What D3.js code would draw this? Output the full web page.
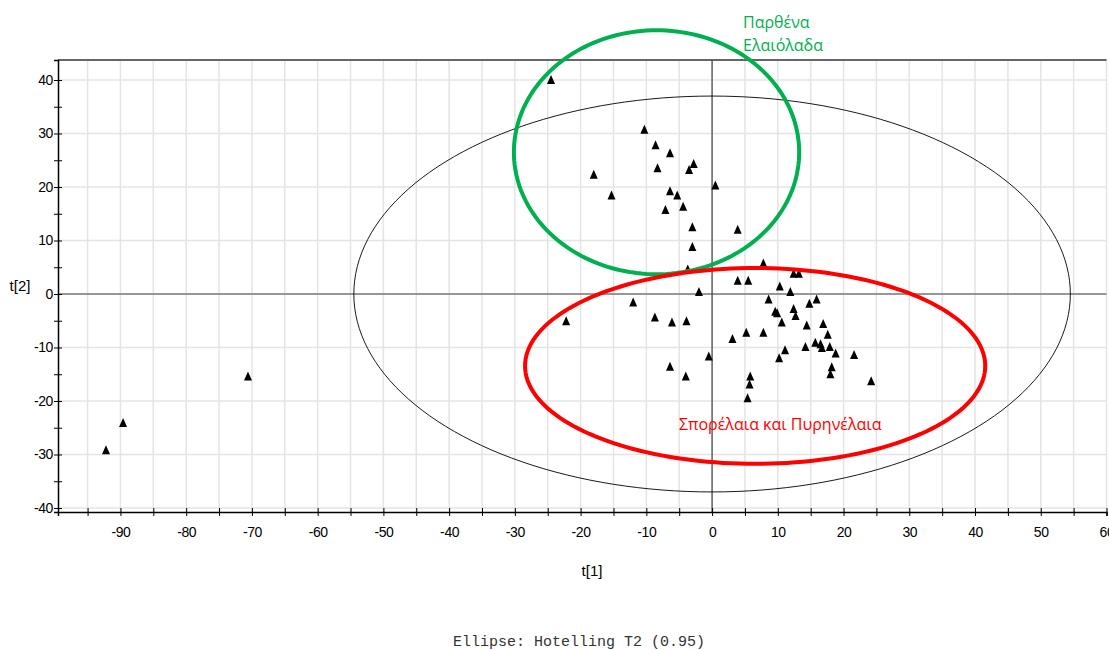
<!DOCTYPE html>
<html>
<head>
<meta charset="utf-8">
<script src="https://cdn.jsdelivr.net/npm/d3@7"></script>
<style>
  body { margin: 0; background: #fff; }
  svg { display: block; }
  .tick text { font-family: "Liberation Sans", Arial, sans-serif; font-size: 14px; letter-spacing: -0.4px; fill: #000; }
</style>
</head>
<body>
<div id="chart"></div>
<script>
// scores t[1], t[2]
const t1 = [-24.5, -10.3, -8.6, -6.4, -2.8, -3.5, -8.3, -18.0, 0.5, -15.3,
            -6.4, -5.3, -7.1, -4.4, -3.0, 3.9, -3.0, -3.7, 3.9, 5.5,
            -2.0, -12.0, 7.8, 12.4, 13.2, 10.3, 11.9, 8.6, 15.9, 14.8,
            9.6, 9.9, 12.4, 12.7, 10.6, -22.2, -8.7, -6.1, -3.9, 14.4,
            16.9, 5.2, 7.8, 3.1, 17.6, 14.2, 15.7, 16.5, 16.7, 17.9,
            11.1, 10.2, 18.8, 21.6, -0.5, -6.4, -4.0, 18.2, 18.0, 5.8,
            5.7, 24.2, 5.4, -70.6, -89.6, -92.2];
const t2 = [39.9, 30.6, 27.7, 26.2, 24.2, 23.1, 23.4, 22.2, 20.2, 18.3,
            19.1, 18.3, 15.6, 16.2, 12.4, 11.9, 8.7, 4.5, 2.4, 2.4,
            0.3, -1.7, 5.6, 3.7, 3.7, 1.3, 0.3, -1.1, -1.1, -1.9,
            -3.4, -3.7, -2.9, -4.2, -5.4, -5.2, -4.5, -5.4, -5.2, -6.0,
            -5.7, -7.35, -7.35, -8.5, -7.7, -10.0, -9.2, -9.5, -10.2, -10.0,
            -10.6, -12.1, -11.2, -11.5, -11.8, -13.7, -15.5, -13.8, -15.1, -15.5,
            -17.0, -16.4, -19.6, -15.5, -24.2, -29.3];

const xTicks = d3.range(-95, 61, 5);
const xLabels = [-90, -80, -70, -60, -50, -40, -30, -20, -10, 0, 10, 20, 30, 40, 50, 60];
const yTicks = d3.range(-40, 41, 5);
const yLabels = [-40, -30, -20, -10, 0, 10, 20, 30, 40];

// ellipses: [cx, cy, rx, ry] in score units
const hotelling = [0, 0, 54.5, 37];
const greenGroup = [-8.45, 26.5, 21.7, 22.8];
const redGroup = [6.55, -13.45, 35, 18.3];

const greenLabel = ["Παρθένα", "Ελαιόλαδα"];
const redLabel = "Σπορέλαια και Πυρηνέλαια";
const footer = "Ellipse: Hotelling T2 (0.95)";

const W = 1109, H = 650;
const svg = d3.select("#chart").append("svg").attr("width", W).attr("height", H);

const x = d3.scaleLinear().domain([-99.5, 60]).range([58, 1106.5]);
const y = d3.scaleLinear().domain([-40.75, 43.74]).range([512, 60]);

// grid
svg.append("g").selectAll("line").data(xTicks).join("line")
  .attr("x1", d => x(d)).attr("x2", d => x(d))
  .attr("y1", y.range()[1]).attr("y2", y.range()[0])
  .attr("stroke", "#e4e4e4").attr("stroke-width", 1.5);
svg.append("g").selectAll("line").data(yLabels).join("line")
  .attr("x1", x.range()[0]).attr("x2", x.range()[1])
  .attr("y1", d => y(d)).attr("y2", d => y(d))
  .attr("stroke", "#e4e4e4").attr("stroke-width", 1.5);

// top border
svg.append("line")
  .attr("x1", x.range()[0]).attr("x2", x.range()[1])
  .attr("y1", y.range()[1]).attr("y2", y.range()[1])
  .attr("stroke", "#666").attr("stroke-width", 2);

// zero lines
svg.append("line").attr("x1", x(0)).attr("x2", x(0))
  .attr("y1", y.range()[1]).attr("y2", y.range()[0])
  .attr("stroke", "#444").attr("stroke-width", 1.2);
svg.append("line").attr("x1", x.range()[0]).attr("x2", x.range()[1])
  .attr("y1", y(0)).attr("y2", y(0))
  .attr("stroke", "#444").attr("stroke-width", 1.2);

// axes
const xAxis = svg.append("g")
  .attr("transform", "translate(0," + y.range()[0] + ")")
  .call(d3.axisBottom(x).tickValues(xTicks).tickSize(4).tickPadding(11)
    .tickFormat(d => xLabels.includes(d) ? d : ""));
xAxis.select(".domain").attr("stroke", "#000").attr("stroke-width", 1.5);
xAxis.selectAll(".tick line").attr("y1", -4).attr("stroke", "#000");

const yAxis = svg.append("g")
  .attr("transform", "translate(" + x.range()[0] + ",0)")
  .call(d3.axisLeft(y).tickValues(yTicks).tickSize(4).tickPadding(1)
    .tickFormat(d => yLabels.includes(d) ? d : ""));
yAxis.select(".domain").attr("stroke", "#000").attr("stroke-width", 1.5);
yAxis.selectAll(".tick line").attr("x1", 4).attr("stroke", "#000");

// ellipse helper
const angles = d3.range(0, 361, 2).map(a => a * Math.PI / 180);
function ellipsePath(e) {
  return d3.line()
    .x(a => x(e[0] + e[2] * Math.cos(a)))
    .y(a => y(e[1] + e[3] * Math.sin(a)))(angles) + "Z";
}

svg.append("path").attr("d", ellipsePath(hotelling))
  .attr("fill", "none").attr("stroke", "#000").attr("stroke-width", 0.9);

// points
const tri = "M0,-5.5L4,3.5L-4,3.5Z";
svg.append("g").selectAll("path").data(t1).join("path")
  .attr("d", tri)
  .attr("transform", (d, i) => "translate(" + x(d) + "," + y(t2[i]) + ")")
  .attr("fill", "#000");

// group ellipses
svg.append("path").attr("d", ellipsePath(greenGroup))
  .attr("fill", "none").attr("stroke", "#00b050").attr("stroke-width", 4);
svg.append("path").attr("d", ellipsePath(redGroup))
  .attr("fill", "none").attr("stroke", "#ff0000").attr("stroke-width", 4);

// labels
svg.append("text").attr("x", 743).attr("y", 28)
  .attr("font-family", "Open Sans, sans-serif").attr("font-size", 16)
  .attr("fill", "#00b050").text(greenLabel[0]);
svg.append("text").attr("x", 743).attr("y", 51)
  .attr("font-family", "Open Sans, sans-serif").attr("font-size", 16)
  .attr("fill", "#00b050").text(greenLabel[1]);
svg.append("text").attr("x", 679).attr("y", 430)
  .attr("font-family", "Open Sans, sans-serif").attr("font-size", 16)
  .attr("fill", "#ff0000").text(redLabel);

svg.append("text").attr("x", 20).attr("y", 291)
  .attr("font-family", "Liberation Sans, Arial, sans-serif").attr("font-size", 15)
  .attr("text-anchor", "middle").text("t[2]");
svg.append("text").attr("x", 592).attr("y", 576)
  .attr("font-family", "Liberation Sans, Arial, sans-serif").attr("font-size", 15)
  .attr("text-anchor", "middle").text("t[1]");

svg.append("text").attr("x", 453).attr("y", 646)
  .attr("font-family", "Liberation Mono, Courier New, monospace").attr("font-size", 15)
  .attr("fill", "#333").text(footer);
</script>
</body>
</html>
